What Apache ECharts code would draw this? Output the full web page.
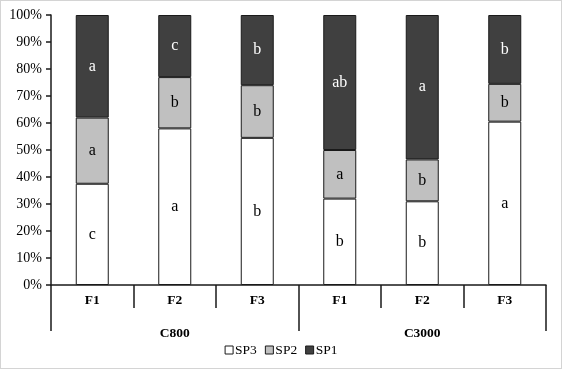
<!DOCTYPE html>
<html>
<head>
<meta charset="utf-8">
<script src="https://cdn.jsdelivr.net/npm/echarts@6/dist/echarts.min.js"></script>
<style>
  html, body { margin: 0; padding: 0; background: #fff; }
  #chart { width: 562px; height: 369px; box-sizing: border-box; border: 1px solid #d4d4d4; }
</style>
</head>
<body>
<div id="chart"></div>
<script>
// 类别：处理 (F1-F3) 与分组 (C800 / C3000)
const treatments = ['F1', 'F2', 'F3', 'F1', 'F2', 'F3'];
const groups = ['C800', 'C3000'];

// 各物种所占百分比
const sp3Values = [37.5, 58, 54.5, 32, 31, 60.5];
const sp2Values = [24.5, 19, 19.5, 18, 15.5, 14];
const sp1Values = [38, 23, 26, 50, 53.5, 25.5];

// 显著性字母
const sp3Letters = ['c', 'a', 'b', 'b', 'b', 'a'];
const sp2Letters = ['a', 'b', 'b', 'a', 'b', 'b'];
const sp1Letters = ['a', 'c', 'b', 'ab', 'a', 'b'];

const serif = '"Liberation Serif", "DejaVu Serif", serif';

const chart = echarts.init(document.getElementById('chart'));

// 生成一个堆叠柱系列
function makeSeries(name, values, letters, color, textColor) {
    return {
        name: name,
        type: 'bar',
        stack: 'total',
        barWidth: '40%',
        data: values,
        itemStyle: {
            color: color,
            borderColor: '#1a1a1a',
            borderWidth: 1
        },
        label: {
            show: true,
            position: 'inside',
            color: textColor,
            fontFamily: serif,
            fontSize: 16,
            formatter: p => letters[p.dataIndex]
        }
    };
}

const option = {
    animation: false,
    grid: { left: 50, right: 15, top: 14, bottom: 83 },
    legend: {
        bottom: 6,
        left: 'center',
        icon: 'rect',
        itemWidth: 8,
        itemHeight: 8,
        itemGap: 8,
        textStyle: { fontFamily: serif, fontSize: 13.5, color: '#000', padding: [0, 0, 0, -3] },
        itemStyle: { borderColor: '#1a1a1a', borderWidth: 1 },
        data: ['SP3', 'SP2', 'SP1']
    },
    xAxis: [
        {
            type: 'category',
            data: treatments,
            position: 'bottom',
            axisLine: { lineStyle: { color: '#1a1a1a', width: 1.5 } },
            axisTick: { show: true, interval: 0, length: 23, lineStyle: { color: '#1a1a1a', width: 1.5 } },
            axisLabel: { interval: 0, margin: 9, color: '#000', fontFamily: serif, fontSize: 13.5, fontWeight: 'bold' }
        },
        {
            type: 'category',
            data: groups,
            position: 'bottom',
            axisLine: { show: false },
            axisTick: { show: true, interval: 0, length: 46, lineStyle: { color: '#1a1a1a', width: 1.5 } },
            axisLabel: { interval: 0, margin: 42, color: '#000', fontFamily: serif, fontSize: 13.5, fontWeight: 'bold' }
        }
    ],
    yAxis: {
        type: 'value',
        min: 0,
        max: 100,
        interval: 10,
        axisLine: { show: true, lineStyle: { color: '#1a1a1a', width: 1.5 } },
        axisTick: { show: true, length: 5, lineStyle: { color: '#1a1a1a', width: 1.5 } },
        splitLine: { show: false },
        axisLabel: { formatter: '{value}%', color: '#000', fontFamily: serif, fontSize: 14, margin: 9 }
    },
    series: [
        makeSeries('SP3', sp3Values, sp3Letters, '#ffffff', '#000'),
        makeSeries('SP2', sp2Values, sp2Letters, '#c0c0c0', '#000'),
        makeSeries('SP1', sp1Values, sp1Letters, '#404040', '#fff')
    ]
};

chart.setOption(option);
</script>
</body>
</html>
